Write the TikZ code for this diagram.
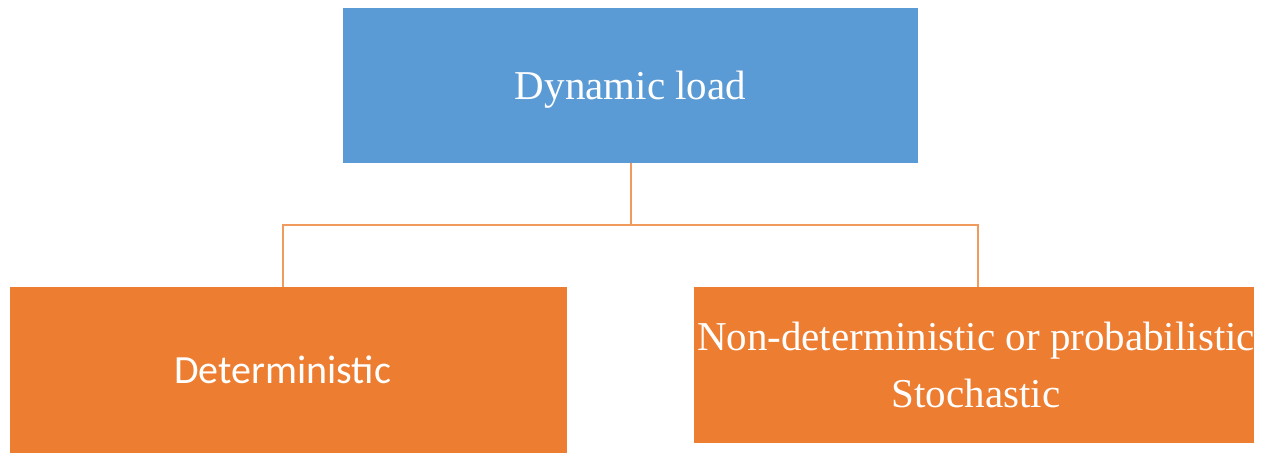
\documentclass[tikz,border=0pt]{standalone}
\usepackage{fontspec}
\setmainfont{Liberation Serif}
\newfontfamily\calibrifont{Carlito}
\definecolor{boxblue}{HTML}{5B9BD5}
\definecolor{boxorange}{HTML}{ED7D31}
\definecolor{linkorange}{HTML}{F09A5E}
\tikzset{
  bluebox/.style={fill=boxblue, draw=none, inner sep=0pt},
  orangebox/.style={fill=boxorange, draw=none, inner sep=0pt},
  boxtext/.style={text=white, inner sep=0pt, align=center, font=\fontsize{41}{57}\selectfont},
  sanstext/.style={text=white, inner sep=0pt, font=\calibrifont\fontsize{40}{48}\selectfont},
  link/.style={draw=linkorange, line width=2.2pt}
}
\begin{document}
\begin{tikzpicture}[x=1pt, y=-1pt]
\useasboundingbox (0,0) rectangle (1270,453);
% top box
\node[bluebox, minimum width=575pt, minimum height=155pt] (top) at (630.5,85.5) {};
\node[boxtext] (toptext) at ([yshift=-4pt]top.center) {Dynamic load};
% left box
\node[orangebox, minimum width=557pt, minimum height=166pt] (left) at (288.5,370) {};
\node[sanstext] (lefttext) at ([xshift=-6pt]left.center) {Deterministic};
% right box
\node[orangebox, minimum width=560pt, minimum height=156pt] (right) at (974,365) {};
\begin{scope}
\clip (right.south west) rectangle (right.north east);
\node[boxtext, anchor=west] (righttext) at ([xshift=3pt]right.west) {Non-deterministic or probabilistic\\Stochastic};
\end{scope}
% connectors
\coordinate (junction) at (631,225);
\coordinate (lefttop) at (283,287);
\coordinate (righttop) at (978,287);
\draw[link] (top.south -| junction) -- (junction);
\draw[link] (lefttop) |- (junction) -| (righttop);
\end{tikzpicture}
\end{document}
